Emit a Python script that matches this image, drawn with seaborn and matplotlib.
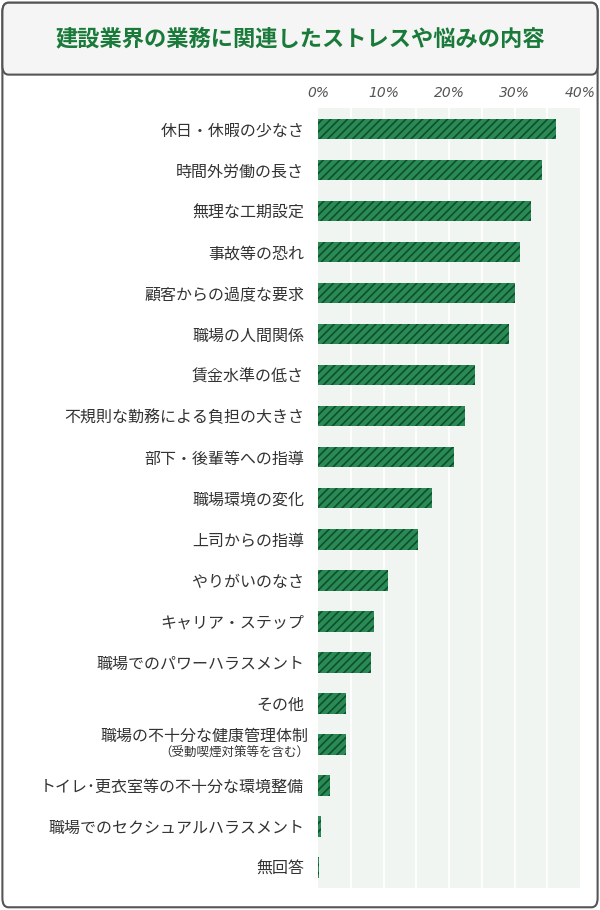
import matplotlib
matplotlib.use("Agg")
import matplotlib.pyplot as plt
import seaborn as sns
import pandas as pd
from matplotlib.patches import FancyBboxPatch

categories = ["休日・休暇の少なさ","時間外労働の長さ","無理な工期設定","事故等の恐れ","顧客からの過度な要求",
 "職場の人間関係","賃金水準の低さ","不規則な勤務による負担の大きさ","部下・後輩等への指導","職場環境の変化",
 "上司からの指導","やりがいのなさ","キャリア・ステップ","職場でのパワーハラスメント","その他",
 "職場の不十分な健康管理体制","トイレ･更衣室等の不十分な環境整備","職場でのセクシュアルハラスメント","無回答"]
values = [36.3,34.2,32.5,30.8,30.1,29.2,24.0,22.4,20.8,17.4,15.3,10.7,8.5,8.1,4.3,4.3,1.8,0.5,0.2]
tick_labels = ["0%","10%","20%","30%","40%"]

plt.rcParams["font.family"] = "Noto Sans CJK JP"
plt.rcParams["hatch.color"] = "#0e4f2c"
plt.rcParams["hatch.linewidth"] = 1.2
fig = plt.figure(figsize=(6, 9.1), dpi=100)
p1 = FancyBboxPatch((0.004,0.003),0.992,0.994,boxstyle="round,pad=0,rounding_size=0.01",
    transform=fig.transFigure, fc="white", ec="#555555", lw=1.5, zorder=-10)
p2 = FancyBboxPatch((0.004,0.918),0.992,0.079,boxstyle="round,pad=0,rounding_size=0.01",
    transform=fig.transFigure, fc="#f5f5f5", ec="#555555", lw=1.5, zorder=-9)
fig.patches.extend([p1, p2])
fig.text(0.5, 0.957, "建設業界の業務に関連したストレスや悩みの内容", ha="center", va="center",
         fontsize=16, fontweight="bold", color="#1a7a3a")

ax = fig.add_axes([0.53, 0.024, 0.437, 0.857])
ax.set_facecolor("#f0f5f2")
df = pd.DataFrame({"cat": categories, "val": values})
sns.barplot(data=df, x="val", y="cat", ax=ax, color="#2a8a55", width=0.5, saturation=1,
            edgecolor="#0e4f2c", linewidth=0, hatch="////", zorder=3)
ax.set_xlim(0, 40)
ax.set_xticks([0,10,20,30,40])
ax.set_xticklabels(tick_labels, fontstyle="italic", color="#555555", fontsize=10, family="DejaVu Sans")
for x in range(5, 40, 5):
    ax.axvline(x, color="white", lw=1.2, zorder=1)
ax.xaxis.tick_top()
ax.tick_params(axis="x", length=0, pad=6)
ax.tick_params(axis="y", length=0, pad=10, labelsize=11.5, labelcolor="#333333")
ax.set_xlabel(""); ax.set_ylabel("")
for s in ax.spines.values():
    s.set_visible(False)
labs = list(categories)
labs[15] = ""
ax.set_yticks(range(len(labs)))
ax.set_yticklabels(labs)
ax.text(-0.035, 15, "職場の不十分な健康管理体制", transform=ax.get_yaxis_transform(), ha="right",
        va="bottom", fontsize=11.5, color="#333333")
ax.text(-0.035, 15.05, "（受動喫煙対策等を含む）", transform=ax.get_yaxis_transform(), ha="right",
        va="top", fontsize=9, color="#333333")
fig.savefig("out.png", dpi=100)
